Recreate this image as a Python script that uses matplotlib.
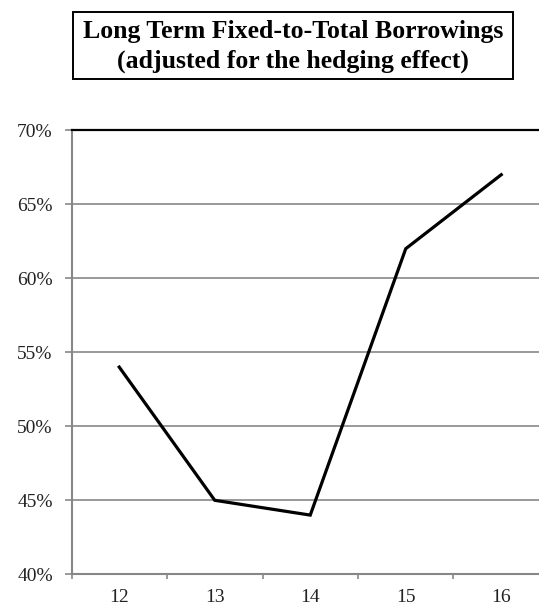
import matplotlib
matplotlib.use("Agg")
import matplotlib.pyplot as plt
from matplotlib.patches import Rectangle
from matplotlib.ticker import FuncFormatter

# Fiscal years and long-term fixed share of total borrowings (after hedging)
years = ["12", "13", "14", "15", "16"]
fixed_share = [0.54, 0.45, 0.44, 0.62, 0.67]
y_ticks = [0.40, 0.45, 0.50, 0.55, 0.60, 0.65, 0.70]
title_lines = ["Long Term Fixed-to-Total Borrowings",
               "(adjusted for the hedging effect)"]

plt.rcParams["font.family"] = ["Liberation Serif", "DejaVu Serif"]

W, H, DPI = 539, 606, 100
fig = plt.figure(figsize=(W / DPI, H / DPI), dpi=DPI)
fig.patch.set_facecolor("white")

grey = "#878787"

# Plot area (category axis runs a little past the right edge)
left_px, right_px, top_px, bottom_px = 71.5, 549.0, 130.3, 574.3
ax = fig.add_axes([left_px / W, 1 - bottom_px / H,
                   (right_px - left_px) / W, (bottom_px - top_px) / H])

x = list(range(len(years)))
ax.plot(x, fixed_share, color="black", lw=2.3, solid_joinstyle="miter",
        zorder=3)

ax.set_xlim(-0.5, len(years) - 0.5)
ax.set_ylim(y_ticks[0], y_ticks[-1])
ax.set_yticks(y_ticks)
ax.yaxis.set_major_formatter(FuncFormatter(lambda v, _: f"{v * 100:.0f}%"))

ax.set_xticks(x)
ax.set_xticklabels(years)
ax.set_xticks([i - 0.5 for i in range(len(years) + 1)], minor=True)

ax.grid(axis="y", color=grey, lw=1.2, zorder=1)
ax.set_axisbelow(True)

ax.spines["right"].set_visible(False)
ax.spines["top"].set_color("black")
ax.spines["top"].set_linewidth(1.6)
for side in ("left", "bottom"):
    ax.spines[side].set_color(grey)
    ax.spines[side].set_linewidth(1.5)

ax.tick_params(axis="y", which="major", length=5, width=1.2, color=grey,
               pad=8.5, labelsize=14, labelcolor="#222222")
ax.tick_params(axis="x", which="major", length=0, pad=10.5, labelsize=14,
               labelcolor="#222222")
ax.tick_params(axis="x", which="minor", length=3.5, width=1.2, color=grey)

# Boxed title
bx0, bx1, by0, by1 = 73.3, 512.7, 12.0, 79.3
fig.patches.append(Rectangle((bx0 / W, 1 - by1 / H), (bx1 - bx0) / W,
                             (by1 - by0) / H, transform=fig.transFigure,
                             fill=False, edgecolor="black", lw=1.4))
fig.text((bx0 + bx1) / 2 / W, 1 - 46.5 / H, "\n".join(title_lines),
         ha="center", va="center", fontsize=18.5, fontweight="bold",
         linespacing=1.32)

fig.savefig("out.png", dpi=DPI, facecolor="white")
